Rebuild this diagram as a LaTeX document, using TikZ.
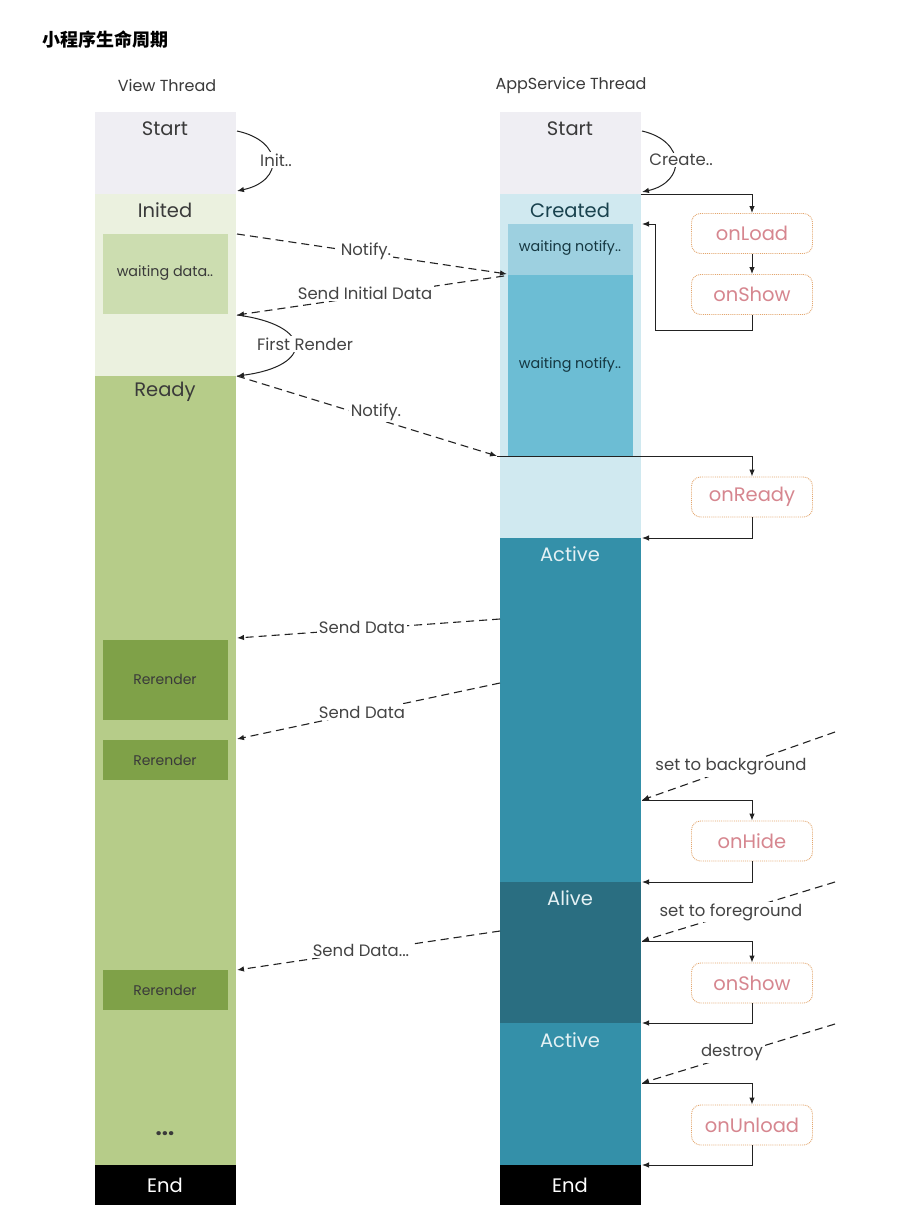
\documentclass[tikz,border=0pt]{standalone}
\usepackage{fontspec}
\setmainfont{Poppins}
\newfontfamily\cjk{Noto Sans CJK SC}
\usetikzlibrary{arrows.meta}
\newcommand\fsz[1]{\fontsize{#1}{#1}\selectfont}
\definecolor{cStart}{HTML}{EFEEF3}
\definecolor{cInited}{HTML}{EBF1DF}
\definecolor{cWaitD}{HTML}{CCDDB0}
\definecolor{cReady}{HTML}{B6CC89}
\definecolor{cRerender}{HTML}{7FA148}
\definecolor{cCreated}{HTML}{D0E9F0}
\definecolor{cWaitN1}{HTML}{9DD0E0}
\definecolor{cWaitN2}{HTML}{6CBDD4}
\definecolor{cActive}{HTML}{3490A9}
\definecolor{cAlive}{HTML}{2A6E81}
\definecolor{cTxt}{HTML}{3A3A3A}
\definecolor{cLbl}{HTML}{444444}
\definecolor{cLight}{HTML}{E4F1F4}
\definecolor{cbBorder}{HTML}{E3A66E}
\definecolor{cbText}{HTML}{D6868F}
\definecolor{cLine}{HTML}{222222}
\begin{document}
\begin{tikzpicture}[x=1pt,y=-1pt,
  blk/.style={draw=none, inner sep=0pt, outer sep=0pt, anchor=north west},
  tl/.style={text=cTxt, inner sep=0pt, font=\fsz{19.5}},
  small/.style={text=cTxt, inner sep=0pt, font=\fsz{14.3}},
  lbl/.style={text=cLbl, fill=white, inner sep=1.5pt, font=\fsz{16.5}},
  cb/.style={draw=cbBorder, densely dotted, line width=0.9pt, rounded corners=9pt,
    minimum width=121pt, minimum height=40pt, inner sep=0pt, text=cbText, font=\fsz{19.5}},
  arr/.style={draw=cLine, line width=1pt, -{Latex[length=7pt,width=5.5pt]}},
  darr/.style={draw=cLine, line width=1.1pt, dash pattern=on 8pt off 5pt, -{Latex[length=7pt,width=5.5pt]}},
]
\useasboundingbox[fill=white] (0,0) rectangle (912,1211);

% title and headings
\node[anchor=west, inner sep=0pt, font=\cjk\bfseries\fsz{18}] (title) at (42,40) {小程序生命周期};
\node[text=cTxt, inner sep=0pt, font=\fsz{16}] (hView) at (167,85) {View Thread};
\node[text=cTxt, inner sep=0pt, font=\fsz{16}] (hApp) at (571,85) {AppService Thread};

% ---------- View thread column ----------
\node[blk, fill=cStart, minimum width=141pt, minimum height=82pt] (vStart) at (95,112) {};
\node[blk, fill=cInited, minimum width=141pt, minimum height=182pt] (vInited) at (95,194) {};
\node[blk, fill=cWaitD, minimum width=125pt, minimum height=80pt] (vWait) at (103,234) {};
\node[blk, fill=cReady, minimum width=141pt, minimum height=789pt] (vReady) at (95,376) {};
\node[blk, fill=cRerender, minimum width=125pt, minimum height=80pt] (vR1) at (103,640) {};
\node[blk, fill=cRerender, minimum width=125pt, minimum height=40pt] (vR2) at (103,740) {};
\node[blk, fill=cRerender, minimum width=125pt, minimum height=40pt] (vR3) at (103,970) {};
\node[blk, fill=black, minimum width=141pt, minimum height=40pt] (vEnd) at (95,1165) {};

\node[tl] (tvStart) at (165,129) {Start};
\node[tl] (tvInited) at (165,210) {Inited};
\node[small] (tvWait) at (165,273) {waiting data..};
\node[tl] (tvReady) at (165,392) {Ready};
\node[small, font=\fsz{14}] (tvR1) at (165,679) {Rerender};
\node[small, font=\fsz{14}] (tvR2) at (165,760) {Rerender};
\node[small, font=\fsz{14}] (tvR3) at (165,990) {Rerender};
\node[tl, font=\bfseries\fsz{22}] (tvDots) at (165,1134) {...};
\node[tl, text=white] (tvEnd) at (165,1185) {End};

% ---------- AppService thread column ----------
\node[blk, fill=cStart, minimum width=141pt, minimum height=82pt] (aStart) at (500,112) {};
\node[blk, fill=cCreated, minimum width=141pt, minimum height=344pt] (aCreated) at (500,194) {};
\node[blk, fill=cWaitN1, minimum width=125pt, minimum height=51pt] (aWait1) at (508,224) {};
\node[blk, fill=cWaitN2, minimum width=125pt, minimum height=181pt] (aWait2) at (508,275) {};
\node[blk, fill=cActive, minimum width=141pt, minimum height=344pt] (aActive1) at (500,538) {};
\node[blk, fill=cAlive, minimum width=141pt, minimum height=141pt] (aAlive) at (500,882) {};
\node[blk, fill=cActive, minimum width=141pt, minimum height=142pt] (aActive2) at (500,1023) {};
\node[blk, fill=black, minimum width=141pt, minimum height=40pt] (aEnd) at (500,1165) {};

\node[tl] (taStart) at (570,129) {Start};
\node[tl, text=cAlive!60!black] (taCreated) at (570,210) {Created};
\node[small, text=cAlive!50!black] (taWait1) at (570,248) {waiting notify..};
\node[small, text=cAlive!50!black] (taWait2) at (570,365) {waiting notify..};
\node[tl, text=cLight] (taActive1) at (570,554) {Active};
\node[tl, text=cLight] (taAlive) at (570,898) {Alive};
\node[tl, text=cLight] (taActive2) at (570,1040) {Active};
\node[tl, text=white] (taEnd) at (570,1185) {End};

% ---------- callbacks ----------
\node[cb] (onLoad) at (752,233.5) {onLoad};
\node[cb] (onShowA) at (752,294.5) {onShow};
\node[cb] (onReady) at (752,497) {onReady};
\node[cb] (onHide) at (752,841) {onHide};
\node[cb] (onShowB) at (752,983) {onShow};
\node[cb] (onUnload) at (752,1125) {onUnload};

% ---------- coordinates ----------
\coordinate (i1) at (237,131);
\coordinate (i2) at (237,191);
\coordinate (c1) at (642,131);
\coordinate (c2) at (642,192);
\coordinate (f1) at (237,315);
\coordinate (f2) at (237,376);
\coordinate (n1a) at (237,234);
\coordinate (n1b) at (507,274);
\coordinate (s0a) at (504,276);
\coordinate (n2b) at (497,456);
\coordinate (sd1a) at (500,619);
\coordinate (sd1b) at (237,638);
\coordinate (sd2a) at (500,683);
\coordinate (sd2b) at (237,739);
\coordinate (sd3a) at (500,931);
\coordinate (sd3b) at (237,970);
\coordinate (cr0) at (641,194);
\coordinate (k1) at (655,330);
\coordinate (k2) at (642,224);
\coordinate (rd1) at (642,538);
\coordinate (bg0) at (835,732);
\coordinate (bg1) at (642,800);
\coordinate (bg2) at (642,882);
\coordinate (fg0) at (835,882);
\coordinate (fg1) at (642,941);
\coordinate (fg2) at (642,1023);
\coordinate (de0) at (835,1024);
\coordinate (de1) at (642,1083);
\coordinate (de2) at (642,1165);

% ---------- curved solid arrows ----------
\draw[arr] (i1) .. controls (284,141) and (284,181) .. (i2);
\node[lbl] (lInit) at (276,160) {Init..};
\draw[arr] (c1) .. controls (686,141) and (686,182) .. (c2);
\node[lbl] (lCreate) at (681,160) {Create..};
\draw[arr] (f1) .. controls (314,325) and (314,366) .. (f2);
\node[lbl] (lFirst) at (305,344) {First Render};

% ---------- dashed messages ----------
\draw[darr] (n1a) -- (n1b);
\node[lbl] (lNotify1) at (366,251) {Notify.};
\draw[darr] (s0a) -- (f1);
\node[lbl] (lSendInit) at (365,293) {Send Initial Data};
\draw[darr] (f2) -- (n2b);
\node[lbl] (lNotify2) at (376,412) {Notify.};
\draw[darr] (sd1a) -- (sd1b);
\node[lbl] (lSD1) at (362,627) {Send Data};
\draw[darr] (sd2a) -- (sd2b);
\node[lbl] (lSD2) at (362,712) {Send Data};
\draw[darr] (sd3a) -- (sd3b);
\node[lbl] (lSD3) at (361,950) {Send Data...};

% ---------- lifecycle callbacks ----------
\draw[arr] (cr0) -| (onLoad.north);
\draw[arr] (onLoad) -- (onShowA);
\draw[arr] (onShowA.south) |- (k1) |- (k2);
\draw[arr] (n2b) -| (onReady.north);
\draw[arr] (onReady.south) |- (rd1);

\draw[darr] (bg0) -- (bg1);
\node[lbl] (lBg) at (731,767) {set to background};
\draw[arr] (bg1) -| (onHide.north);
\draw[arr] (onHide.south) |- (bg2);

\draw[darr] (fg0) -- (fg1);
\node[lbl] (lFg) at (731,912) {set to foreground};
\draw[arr] (fg1) -| (onShowB.north);
\draw[arr] (onShowB.south) |- (fg2);

\draw[darr] (de0) -- (de1);
\node[lbl] (lDe) at (732,1053) {destroy};
\draw[arr] (de1) -| (onUnload.north);
\draw[arr] (onUnload.south) |- (de2);
\end{tikzpicture}
\end{document}
